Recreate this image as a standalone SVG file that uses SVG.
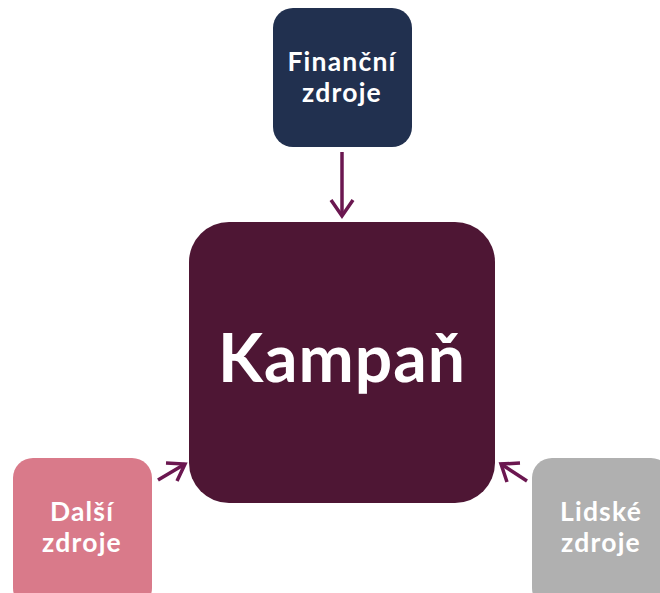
<svg xmlns="http://www.w3.org/2000/svg" width="660" height="593" viewBox="0 0 660 593">
<style>
.lbl{font-family:Lato,"Open Sans","Liberation Sans",sans-serif;font-weight:bold;fill:#fff;text-anchor:middle}
.sm{font-size:26.5px;letter-spacing:1.2px}
.conn{stroke:#6b1750;stroke-width:3.5;fill:none}
</style>
<rect width="660" height="593" fill="#fff"/>
<g id="connectors">
<line class="conn" x1="342" y1="152" x2="342" y2="216"/>
<line class="conn" x1="158" y1="480" x2="185" y2="464"/>
<line class="conn" x1="527" y1="481" x2="501" y2="464"/>
<path class="conn" d="M331,200 L342,216 L353,200"/>
<path class="conn" d="M166,463 L185,464 L177,481"/>
<path class="conn" d="M507,482 L501,464 L520,463"/>
</g>
<g id="campaign">
<rect x="189" y="222" width="306" height="281" rx="40" fill="#4e1634"/>
<text class="lbl" x="342" y="382" font-size="66" letter-spacing="1">Kampaň</text>
</g>
<g id="financni">
<rect x="273" y="8" width="139" height="139" rx="20" fill="#21304f"/>
<text class="lbl sm" x="342" y="71">Finanční</text>
<text class="lbl sm" x="342" y="102">zdroje</text>
</g>
<g id="dalsi">
<rect x="13" y="458" width="139" height="150" rx="20" fill="#d97a8a"/>
<text class="lbl sm" x="82" y="521">Další</text>
<text class="lbl sm" x="82" y="552">zdroje</text>
</g>
<g id="lidske">
<rect x="532" y="458" width="139" height="150" rx="20" fill="#b0b0b0"/>
<text class="lbl sm" x="601" y="521">Lidské</text>
<text class="lbl sm" x="601" y="552">zdroje</text>
</g>
</svg>
